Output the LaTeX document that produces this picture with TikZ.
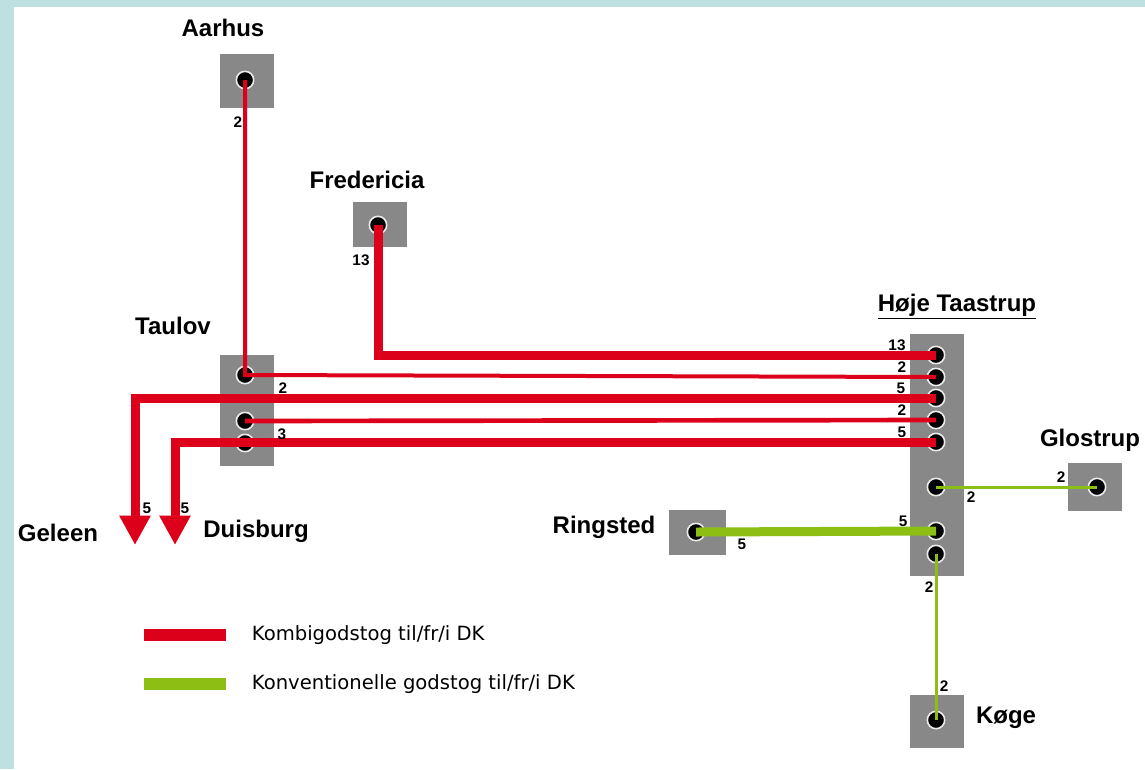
\documentclass[tikz,border=0pt]{standalone}
\usepackage{fontspec}
\setmainfont{Liberation Sans}
\newfontfamily\legendfont{DejaVu Sans}
\usetikzlibrary{arrows.meta,positioning}
\definecolor{framebg}{RGB}{191,224,224}
\definecolor{boxgray}{RGB}{136,136,136}
\definecolor{kombired}{RGB}{220,0,26}
\definecolor{konvgreen}{RGB}{141,190,20}
\begin{document}
\begin{tikzpicture}[
  x=0.75pt,y=-0.75pt,
  station/.style={fill=boxgray,inner sep=0pt,minimum width=40.5pt,minimum height=#1},
  station/.default=40.5pt,
  hole/.style={circle,fill=black,draw=white!85!gray,line width=1.2pt,inner sep=0pt,minimum size=13pt},
  city/.style={font=\bfseries\fontsize{18}{20}\selectfont,inner sep=0pt},
  count/.style={font=\bfseries\fontsize{11.5}{12}\selectfont,inner sep=0pt},
  kombi/.style={kombired,line width=#1},
  kombi/.default=6.75pt,
  konv/.style={konvgreen,line width=#1},
  konv/.default=6.75pt,
  outward/.style={-{Triangle[width=22pt,length=22pt]}},
  legendbar/.style={minimum width=61.5pt,minimum height=9pt,inner sep=0pt},
  legendtext/.style={font=\legendfont\fontsize{14.7}{16}\selectfont,inner sep=0pt}
]
  \fill[framebg] (0,0) rectangle (1145,769);
  \fill[white] (14,7) rectangle (1145,769);

  \node[station] (aarhus) at (247,81) {};
  \node[station=34pt] (fredericia) at (379.5,224.5) {};
  \node[station=83pt] (taulov) at (247,410.5) {};
  \node[station=181.5pt] (hoeje) at (937,455) {};
  \node[station=36pt] (glostrup) at (1095,487) {};
  \node[station=34pt,minimum width=42.75pt] (ringsted) at (697.5,532.5) {};
  \node[station=40pt] (koege) at (937,721.5) {};

  \node[hole] (aar) at (245,80) {};
  \node[hole] (fre) at (378,225) {};
  \node[hole] (tau1) at (245,375) {};
  \node[hole] (tau2) at (245,421) {};
  \node[hole] (tau3) at (245,443) {};
  \foreach \y [count=\i] in {355,377,398,420,442,487,531,554}
    \node[hole] (ht\i) at (936,\y) {};
  \node[hole] (glo) at (1097,487) {};
  \node[hole] (rin) at (696,532) {};
  \node[hole] (koe) at (936,720) {};

  \coordinate (geleenTip) at (135,545);
  \coordinate (duisburgTip) at (175,545);

  \draw[kombi=3pt] (aar.center) -- (tau1.center) -- (ht2.center);
  \draw[kombi] (fre.center) |- (ht1.center);
  \draw[kombi,outward] (ht3.center) -| (geleenTip);
  \draw[kombi=3.5pt] (tau2.center) -- (ht4.center);
  \draw[kombi,outward] (ht5.center) -| (duisburgTip);
  \draw[konv=2.25pt] (ht6.center) -- (glo.center);
  \draw[konv] (rin.center) -- (ht7.center);
  \draw[konv=2.25pt] (ht8.center) -- (koe.center);

  \node[city] (aarhusName) at (223,28) {Aarhus};
  \node[city] (fredericiaName) at (367,180) {Fredericia};
  \node[city] (taulovName) at (173,326) {Taulov};
  \node[city] (hoejeName) at (957,307) {\underline{Høje Taastrup}};
  \node[city] (glostrupName) at (1090,440) {Glostrup};
  \node[city] (ringstedName) at (604,527) {Ringsted};
  \node[city] (koegeName) at (1006,718) {Køge};
  \node[city] (geleenName) at (58,533) {Geleen};
  \node[city] (duisburgName) at (256,531) {Duisburg};

  \node[count] (nAar) at (238,122) {2};
  \node[count] (nFre) at (361,260) {13};
  \node[count] (nTau1) at (283,388) {2};
  \node[count] (nTau3) at (282,434) {3};
  \node[count] (nHt1) at (897,345) {13};
  \node[count] (nHt2) at (902,367) {2};
  \node[count] (nHt3) at (901,388) {5};
  \node[count] (nHt4) at (902,410) {2};
  \node[count] (nHt5) at (902,432) {5};
  \node[count] (nHt6) at (971,497) {2};
  \node[count] (nHt7) at (903,521) {5};
  \node[count] (nHt8) at (929,587) {2};
  \node[count] (nGlo) at (1061,477) {2};
  \node[count] (nRin) at (742,544) {5};
  \node[count] (nKoe) at (944,686) {2};
  \node[count] (nGel) at (147,508) {5};
  \node[count] (nDui) at (185,508) {5};

  \node[legendbar,fill=kombired] (kombiKey) at (185,635) {};
  \node[legendbar,fill=konvgreen] (konvKey) at (185,684) {};
  \node[legendtext,right=19pt of kombiKey] (kombiText) {Kombigodstog til/fr/i DK};
  \node[legendtext,right=19pt of konvKey] (konvText) {Konventionelle godstog til/fr/i DK};
\end{tikzpicture}
\end{document}
